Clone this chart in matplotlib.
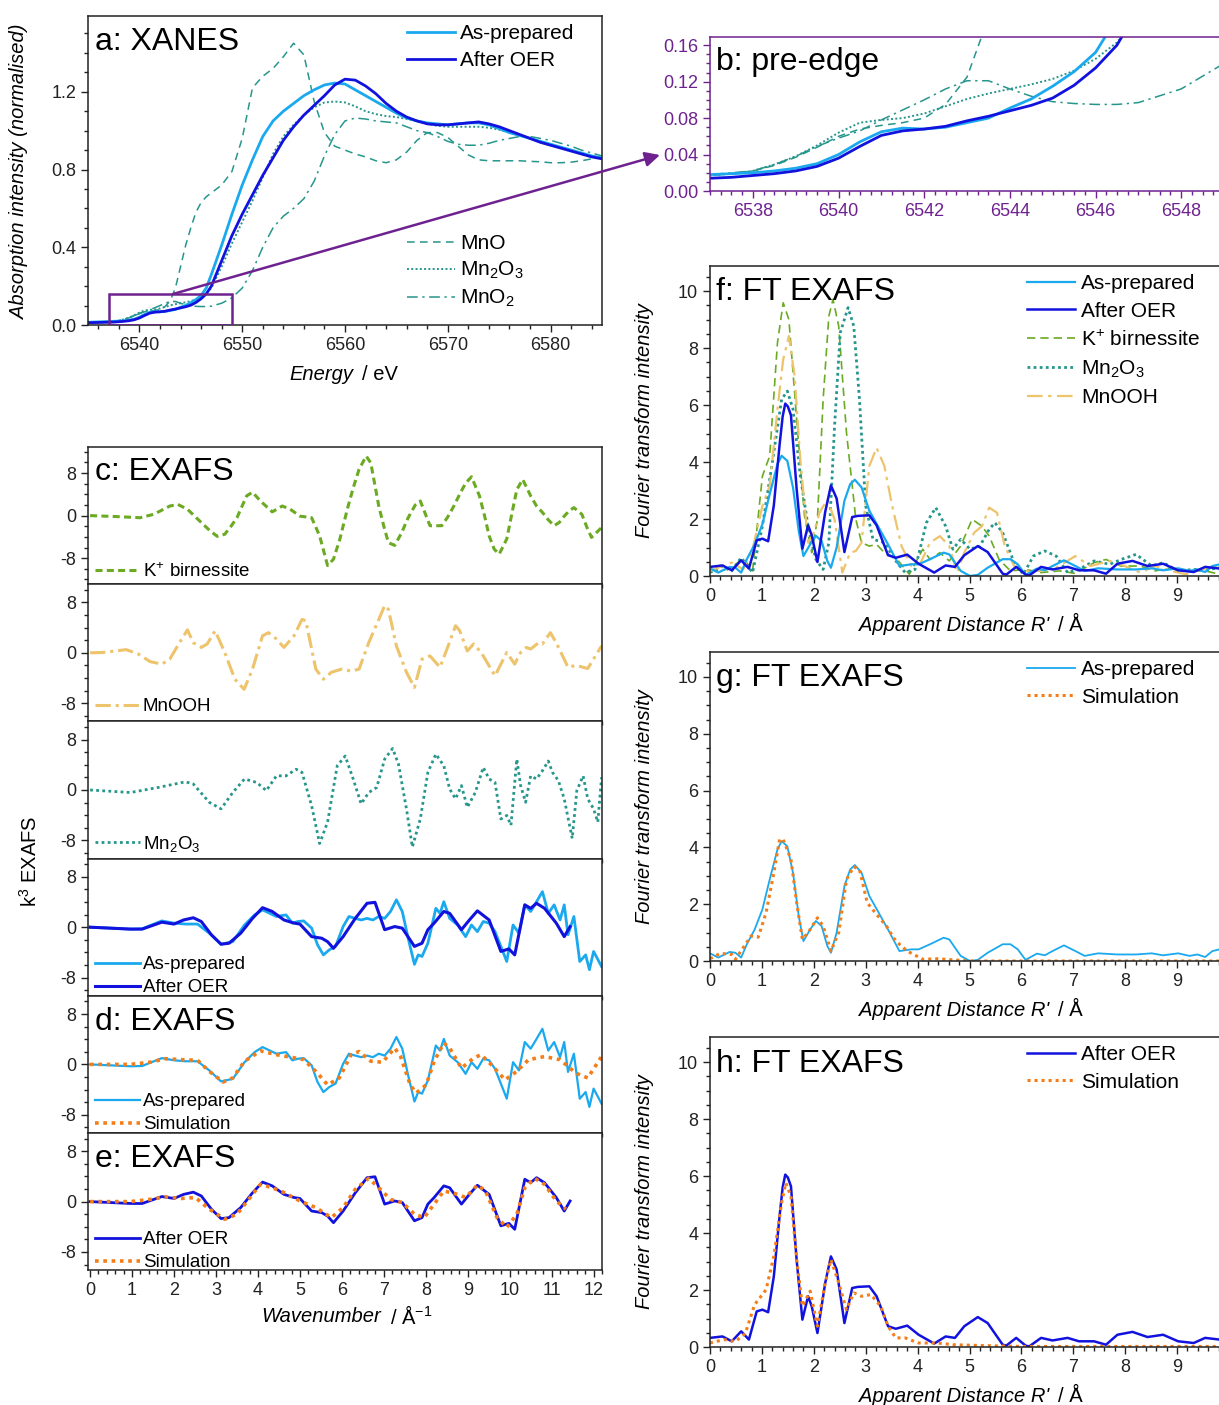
import matplotlib.pyplot as plt
from matplotlib.patches import Rectangle
from matplotlib.ticker import MultipleLocator, FormatStrFormatter

# ---------------- XANES (a, b) ----------------
energy = [6535, 6536, 6537, 6537.5, 6538, 6538.5, 6539, 6539.5, 6540, 6540.5,
          6541, 6541.5, 6542, 6542.5, 6543, 6543.5, 6544, 6544.5, 6545, 6545.5,
          6546, 6546.5, 6547, 6548, 6549, 6550, 6551, 6552, 6553, 6554,
          6555, 6556, 6557, 6558, 6559, 6560, 6561, 6562, 6563, 6564,
          6565, 6566, 6567, 6568, 6569, 6570, 6571, 6572, 6573, 6574,
          6575, 6576, 6577, 6578, 6579, 6580, 6581, 6582, 6583, 6584, 6585]
xanes_asprep = [0.014, 0.016, 0.018, 0.019, 0.020, 0.022, 0.025, 0.030, 0.040, 0.054,
                0.065, 0.069, 0.068, 0.070, 0.075, 0.080, 0.091, 0.101, 0.115, 0.131,
                0.152, 0.19, 0.26, 0.41, 0.57, 0.72, 0.85, 0.97, 1.05, 1.10,
                1.14, 1.18, 1.21, 1.235, 1.245, 1.24, 1.21, 1.18, 1.15, 1.12,
                1.09, 1.065, 1.05, 1.04, 1.035, 1.03, 1.035, 1.04, 1.04, 1.03,
                1.01, 0.99, 0.975, 0.96, 0.945, 0.93, 0.915, 0.90, 0.885, 0.87, 0.86]
xanes_oer = [0.012, 0.013, 0.014, 0.015, 0.017, 0.019, 0.022, 0.027, 0.036, 0.049,
             0.061, 0.066, 0.068, 0.071, 0.077, 0.082, 0.088, 0.094, 0.102, 0.116,
             0.135, 0.160, 0.20, 0.33, 0.46, 0.57, 0.67, 0.77, 0.86, 0.95,
             1.02, 1.08, 1.13, 1.18, 1.235, 1.265, 1.26, 1.23, 1.19, 1.14,
             1.10, 1.07, 1.05, 1.035, 1.03, 1.03, 1.035, 1.04, 1.045, 1.035,
             1.02, 1.0, 0.98, 0.96, 0.94, 0.925, 0.91, 0.895, 0.88, 0.865, 0.855]
xanes_mno = [0.013, 0.015, 0.017, 0.019, 0.022, 0.028, 0.037, 0.048, 0.060, 0.068,
             0.072, 0.075, 0.080, 0.095, 0.125, 0.19, 0.30, 0.41, 0.50, 0.58,
             0.63, 0.66, 0.68, 0.72, 0.79, 0.96, 1.22, 1.28, 1.32, 1.38,
             1.45, 1.39, 1.15, 0.99, 0.92, 0.90, 0.88, 0.865, 0.845, 0.835,
             0.85, 0.89, 0.95, 0.99, 0.99, 0.965, 0.92, 0.875, 0.85, 0.845,
             0.845, 0.845, 0.845, 0.842, 0.84, 0.835, 0.835, 0.838, 0.845, 0.855, 0.865]
xanes_mn2o3 = [0.013, 0.015, 0.017, 0.019, 0.022, 0.029, 0.038, 0.050, 0.064, 0.075,
               0.078, 0.080, 0.085, 0.093, 0.101, 0.107, 0.112, 0.117, 0.123, 0.132,
               0.145, 0.163, 0.19, 0.30, 0.42, 0.53, 0.64, 0.76, 0.88, 0.97,
               1.03, 1.08, 1.12, 1.145, 1.15, 1.145, 1.125, 1.10, 1.085, 1.075,
               1.07, 1.06, 1.05, 1.035, 1.025, 1.02, 1.02, 1.02, 1.02, 1.015,
               1.005, 0.99, 0.975, 0.96, 0.945, 0.93, 0.915, 0.90, 0.885, 0.87, 0.86]
xanes_mno2 = [0.014, 0.016, 0.018, 0.020, 0.022, 0.029, 0.038, 0.049, 0.058, 0.066,
              0.078, 0.089, 0.100, 0.112, 0.121, 0.121, 0.112, 0.104, 0.098, 0.096,
              0.095, 0.095, 0.097, 0.112, 0.14, 0.19, 0.28, 0.40, 0.50, 0.56,
              0.60, 0.65, 0.74, 0.87, 0.98, 1.05, 1.065, 1.06, 1.05, 1.045,
              1.04, 1.02, 1.0, 0.99, 0.97, 0.945, 0.93, 0.925, 0.925, 0.935,
              0.95, 0.96, 0.97, 0.97, 0.96, 0.95, 0.935, 0.92, 0.90, 0.885, 0.87]

# ---------------- k3 EXAFS (c, d, e) ----------------
k_birn = [0, 0.68, 1.19, 1.52, 1.9, 2.09, 2.32, 2.65, 2.85, 3.03, 3.21, 3.35, 3.5, 3.73, 3.87,
          4.06, 4.34, 4.58, 4.77, 5.0, 5.28, 5.47, 5.66, 5.8, 5.95, 6.13, 6.27, 6.41, 6.58,
          6.69, 6.88, 7.0, 7.11, 7.26, 7.42, 7.58, 7.75, 7.87, 8.1, 8.38, 8.52, 8.67, 8.82,
          8.95, 9.09, 9.28, 9.4, 9.51, 9.63, 9.75, 9.93, 10.05, 10.17, 10.31, 10.5, 10.64,
          10.78, 10.92, 11.06, 11.18, 11.3, 11.42, 11.53, 11.72, 11.84, 11.95, 12.19]
chi_birn = [0, -0.2, -0.4, 0.25, 1.8, 2.1, 1.2, -1.3, -2.8, -3.9, -3.5, -2.1, -0.4, 3.7, 4.4,
            2.75, 0.7, 1.8, 1.2, -0.1, -0.4, -3.8, -9.4, -8.2, -4.5, 1.2, 5.2, 8.7, 11.2,
            9.9, 1.8, -2.0, -5.1, -5.6, -3.3, -0.4, 2.0, 2.75, -1.9, -1.9, -0.3, 1.8, 4.2,
            6.1, 7.3, 3.7, 0.0, -3.8, -6.3, -7.25, -4.4, 0.3, 4.9, 6.8, 3.7, 1.8,
            0.6, -0.8, -1.9, -1.3, -0.1, 0.9, 1.5, 0.25, -2.2, -4.1, -2.25]

k_mnooh = [0, 0.3, 0.86, 1.15, 1.43, 1.71, 1.9, 2.13, 2.32, 2.46, 2.65, 2.79, 2.98, 3.21, 3.45,
           3.67, 3.87, 4.11, 4.25, 4.44, 4.62, 4.86, 5.05, 5.14, 5.28, 5.38, 5.56, 5.75, 5.99,
           6.22, 6.41, 6.64, 6.88, 7.02, 7.11, 7.3, 7.54, 7.73, 7.91, 8.1, 8.34, 8.52, 8.71,
           8.81, 8.99, 9.14, 9.32, 9.65, 9.93, 10.12, 10.26, 10.4, 10.5, 10.69, 10.78, 10.97,
           11.11, 11.39, 11.58, 11.86, 12.19]
chi_mnooh = [0, 0.05, 0.5, -0.2, -1.4, -1.8, -1.0, 1.6, 3.65, 1.6, 0.85, 1.4, 3.5, 0.05, -4.2,
             -5.8, -2.6, 2.7, 3.2, 2.2, 0.85, 2.7, 5.3, 5.1, 0.6, -2.6, -4.2, -3.1, -2.6,
             -2.9, -2.6, 1.6, 5.3, 7.5, 6.9, 1.1, -3.1, -5.5, -1.0, -0.5, -2.3, 0.85, 4.3,
             3.5, 0.3, 1.4, 0.05, -3.65, 0.05, -1.8, 0.05, 0.85, 0.6, 1.6, 1.4, 3.2,
             1.6, -2.3, -2.0, -2.5, 1.1]

k_mn2o3 = [0, 0.96, 1.62, 2.27, 2.46, 2.84, 3.12, 3.4, 3.68, 3.97, 4.2, 4.44, 4.67, 4.91, 5.05,
           5.28, 5.47, 5.66, 5.89, 6.08, 6.27, 6.46, 6.64, 6.83, 7.02, 7.21, 7.35, 7.54, 7.68,
           7.87, 8.05, 8.24, 8.43, 8.57, 8.71, 8.85, 8.99, 9.18, 9.37, 9.51, 9.65, 9.79, 9.93,
           10.03, 10.17, 10.26, 10.38, 10.5, 10.64, 10.78, 10.92, 11.02, 11.16, 11.3, 11.49,
           11.6, 11.75, 11.86, 12.0, 12.1, 12.19]
chi_mn2o3 = [0, -0.4, 0.4, 1.3, 0.95, -1.95, -3.0, -0.4, 1.75, 1.2, -0.1, 2.25, 2.25, 3.3, 2.8,
             -2.5, -8.5, -5.1, 3.85, 5.4, 1.75, -2.2, -0.4, 0.4, 4.9, 6.6, 4.1, -3.0, -9.05,
             -4.6, 2.8, 5.7, 3.85, 0.15, -1.4, 0.7, -2.75, -0.4, 3.6, 1.75, 1.2, -4.6, -4.05,
             -5.6, 4.9, 0.7, -1.95, 2.25, 1.75, 3.05, 4.6, 2.8, 1.5, -1.4, -7.7,
             -0.1, 2.25, -1.4, -3.0, -5.1, 2.0]

k_oer = [0, 0.96, 1.24, 1.71, 2.0, 2.23, 2.46, 2.65, 2.89, 3.12, 3.31, 3.59, 3.87, 4.11, 4.34,
         4.62, 4.86, 5.0, 5.28, 5.52, 5.66, 5.8, 6.03, 6.32, 6.6, 6.79, 7.02, 7.26, 7.44, 7.73,
         7.91, 8.05, 8.2, 8.43, 8.57, 8.85, 9.04, 9.23, 9.51, 9.79, 9.98, 10.12, 10.36, 10.5,
         10.64, 10.83, 11.11, 11.3, 11.44]
chi_oer = [0, -0.3, -0.3, 0.8, 0.5, 1.15, 1.5, 0.9, -1.2, -2.7, -2.55, -0.95, 1.4, 3.1, 2.5,
           1.15, 0.65, 0.5, -1.5, -1.75, -2.3, -3.35, -1.5, 1.4, 3.8, 3.95, -0.4, 0.1, -0.15, -3.05,
           -2.55, -0.4, 0.65, 2.5, 2.2, -0.4, 1.15, 2.6, 1.15, -3.85, -3.45, -4.4, 3.55, 3.0,
           3.8, 3.0, 0.65, -1.5, 0.1]

k_asp = [0, 0.96, 1.24, 1.71, 2.0, 2.27, 2.56, 2.84, 3.12, 3.4, 3.68, 3.92, 4.11, 4.44, 4.67,
         4.82, 4.95, 5.09, 5.28, 5.42, 5.56, 5.7, 5.85, 6.03, 6.17, 6.32, 6.46, 6.6, 6.74, 6.88,
         7.02, 7.16, 7.3, 7.44, 7.58, 7.73, 7.82, 7.91, 8.05, 8.15, 8.24, 8.34, 8.43, 8.57, 8.76,
         8.95, 9.09, 9.23, 9.37, 9.51, 9.65, 9.79, 9.93, 10.08, 10.22, 10.36, 10.5, 10.64, 10.78,
         10.92, 11.06, 11.2, 11.3, 11.39, 11.53, 11.67, 11.81, 11.9, 12.0, 12.19]
chi_asp = [0, -0.3, -0.25, 1.0, 0.65, 0.5, 0.5, -0.95, -2.7, -2.3, 0.35, 1.95, 2.75, 1.7, 1.95,
           0.65, 0.9, 1.0, -0.15, -2.8, -4.4, -3.6, -3.05, 0.1, 1.7, 1.4, 1.15, 1.4, 1.15, 1.7,
           1.4, 2.5, 4.35, 2.5, -1.75, -5.9, -4.4, -4.65, -2.55, 0.35, 3.0, 2.2, 4.05, 1.4, 0.35,
           -1.5, 0.35, -0.7, 0.9, 0.65, -0.7, -3.05, -5.45, 0.35, -0.95, 3.55, 2.5, 4.05, 5.65,
           2.2, 3.55, 1.15, 3.55, -1.2, 1.7, -5.45, -4.4, -6.75, -3.85, -6.25]

k_sim_asp = [0, 0.96, 1.43, 1.8, 2.18, 2.56, 2.84, 3.17, 3.4, 3.68, 4.06, 4.44, 4.82, 5.09, 5.38,
             5.66, 5.94, 6.22, 6.41, 6.69, 6.97, 7.26, 7.4, 7.63, 7.77, 8.01, 8.2, 8.43, 8.57,
             8.85, 9.14, 9.32, 9.56, 9.89, 10.17, 10.45, 10.83, 11.2, 11.58, 11.86, 12.19]
chi_sim_asp = [0, 0, 0.35, 0.9, 0.75, 0.65, -1.1, -2.8, -2.15, 0.5, 2.15, 1.55, 1.1, 0.75, -1.1,
               -3.25, -2.15, 1.55, 2.05, 0.5, 0.35, 2.6, 1.25, -3.25, -4.55, -3.25, 0.5, 3.4, 2.6,
               -0.6, 1.0, 1.55, -0.05, -2.45, -1.1, 0.75, 1.25, 0.75, -1.4, -2.15, 1.25]

k_sim_oer = [0, 0.96, 1.43, 1.8, 2.18, 2.51, 2.84, 3.21, 3.5, 3.78, 4.06, 4.34, 4.62, 5.0, 5.38,
             5.75, 6.03, 6.32, 6.64, 6.88, 7.16, 7.44, 7.73, 7.96, 8.2, 8.43, 8.76, 8.95, 9.23,
             9.42, 9.7, 9.93, 10.17, 10.36, 10.59, 10.83, 11.11, 11.34]
chi_sim_oer = [0, 0, 0.35, 0.75, 0.5, 0.65, -1.2, -2.8, -2.0, 0.35, 2.75, 2.2, 1.45, 0.1, -0.95,
               -2.55, -0.95, 1.95, 3.7, 2.2, 0.35, -0.15, -2.0, -2.55, -0.4, 1.7, 1.15, 0.65, 2.65,
               1.7, -2.55, -4.1, -2.0, 2.2, 3.7, 2.75, 0.1, -1.2]

# ---------------- FT EXAFS (f, g, h) ----------------
r_asp = [0, 0.16, 0.38, 0.49, 0.6, 0.71, 0.86, 1.01, 1.15, 1.3, 1.38, 1.49, 1.6, 1.71, 1.8,
         1.93, 2.04, 2.15, 2.26, 2.33, 2.44, 2.59, 2.7, 2.79, 2.92, 3.07, 3.25, 3.43, 3.65, 3.88,
         4.02, 4.24, 4.5, 4.61, 4.83, 5.01, 5.16, 5.35, 5.64, 5.79, 5.93, 6.08, 6.3, 6.45, 6.6,
         6.82, 7.04, 7.22, 7.48, 7.85, 8.21, 8.51, 8.73, 9.02, 9.24, 9.39, 9.54, 9.68, 9.82, 10.0]
ft_asp = [0.27, 0.12, 0.32, 0.29, 0.12, 0.59, 1.11, 1.82, 2.87, 3.93, 4.22, 4.04, 3.1, 1.58, 0.7,
          1.11, 1.41, 1.23, 0.53, 0.29, 1.0, 2.64, 3.22, 3.38, 3.11, 2.29, 1.7, 1.11, 0.35, 0.41,
          0.41, 0.59, 0.82, 0.76, 0.18, 0.0, 0.04, 0.29, 0.59, 0.59, 0.41, 0.04, 0.26, 0.2, 0.35,
          0.55, 0.35, 0.18, 0.27, 0.23, 0.23, 0.27, 0.2, 0.27, 0.18, 0.23, 0.14, 0.35, 0.41, 0.42]

r_sim_asp = [0, 0.2, 0.42, 0.49, 0.64, 0.79, 0.93, 1.08, 1.23, 1.34, 1.41, 1.56, 1.67, 1.78,
             1.93, 2.07, 2.18, 2.33, 2.48, 2.63, 2.77, 2.88, 3.03, 3.21, 3.4, 3.58, 3.8, 4.1,
             4.39, 4.68, 5.05, 6.0, 7.0, 8.0, 9.0, 10.0]
ft_sim_asp = [0.08, 0.27, 0.23, 0.06, 0.47, 0.88, 0.84, 1.7, 3.1, 4.28, 4.28, 3.58, 2.05, 0.76,
              1.11, 1.52, 1.23, 0.35, 1.0, 2.87, 3.32, 3.22, 2.05, 1.64, 1.23, 0.7, 0.35, 0.06,
              0.08, 0.04, 0.0, 0.0, 0.0, 0.0, 0.0, 0.0]

r_oer = [0, 0.24, 0.42, 0.6, 0.75, 0.9, 1.01, 1.12, 1.23, 1.34, 1.4, 1.45, 1.5, 1.56, 1.67, 1.78,
         1.89, 1.96, 2.07, 2.22, 2.33, 2.44, 2.59, 2.74, 2.85, 3.07, 3.21, 3.43, 3.58, 3.8, 4.02,
         4.32, 4.54, 4.72, 4.9, 5.16, 5.35, 5.64, 5.71, 5.9, 6.08, 6.15, 6.38, 6.6, 6.89, 7.11,
         7.4, 7.63, 7.85, 8.14, 8.43, 8.73, 9.02, 9.32, 9.54, 9.82, 10.0]
ft_oer = [0.32, 0.37, 0.2, 0.55, 0.26, 1.25, 1.31, 1.22, 2.48, 4.59, 5.6, 6.05, 5.95, 5.64, 3.04,
          0.96, 1.78, 1.43, 0.49, 2.25, 3.18, 2.72, 0.84, 2.07, 2.11, 2.13, 1.78, 0.73, 0.64, 0.75,
          0.43, 0.12, 0.37, 0.32, 0.73, 1.05, 0.84, 0.08, 0.05, 0.32, 0.05, 0.02, 0.32, 0.23, 0.32,
          0.2, 0.2, 0.08, 0.43, 0.53, 0.35, 0.43, 0.2, 0.14, 0.32, 0.26, 0.22]

r_sim_oer = [0, 0.27, 0.49, 0.68, 0.86, 1.08, 1.23, 1.38, 1.46, 1.56, 1.67, 1.78, 1.93, 2.07,
             2.22, 2.33, 2.48, 2.63, 2.77, 2.92, 3.1, 3.29, 3.43, 3.58, 3.76, 4.02, 4.39, 4.68,
             5.27, 6.0, 7.0, 8.0, 9.0, 10.0]
ft_sim_oer = [0.14, 0.26, 0.2, 0.47, 1.49, 2.01, 3.19, 5.06, 5.76, 5.29, 3.07, 1.43, 1.96, 0.73,
              2.25, 3.07, 2.25, 1.31, 1.9, 1.78, 1.84, 1.43, 0.73, 0.32, 0.32, 0.14, 0.14, 0.08,
              0.05, 0.02, 0.02, 0.02, 0.02, 0.02]

r_birn = [0, 0.2, 0.42, 0.64, 0.82, 1.01, 1.15, 1.3, 1.41, 1.52, 1.67, 1.82, 1.96, 2.07, 2.18,
          2.29, 2.37, 2.48, 2.63, 2.81, 2.92, 3.07, 3.21, 3.36, 3.58, 3.84, 4.1, 4.24, 4.43, 4.61,
          4.83, 5.05, 5.24, 5.38, 5.57, 5.79, 6.08, 6.38, 6.74, 7.04, 7.4, 7.63, 7.92, 8.29, 8.58,
          8.88, 9.24, 9.54, 9.82, 10.0]
ft_birn = [0.23, 0.18, 0.29, 0.64, 0.18, 3.51, 4.21, 8.19, 9.59, 9.0, 5.5, 2.11, 0.82, 1.99, 6.2,
           9.12, 9.71, 8.77, 5.03, 1.99, 1.17, 1.05, 1.11, 0.82, 0.64, 0.06, 0.94, 0.58, 0.82, 0.53,
           1.05, 1.99, 1.75, 1.4, 0.58, 0.18, 0.23, 0.12, 0.18, 0.09, 0.47, 0.58, 0.35, 0.35, 0.18,
           0.29, 0.18, 0.18, 0.06, 0.05]

r_mn2o3 = [0, 0.2, 0.42, 0.6, 0.82, 1.01, 1.19, 1.38, 1.49, 1.6, 1.74, 1.89, 2.04, 2.18, 2.29,
           2.4, 2.51, 2.66, 2.77, 2.88, 3.0, 3.14, 3.36, 3.58, 3.76, 3.95, 4.17, 4.35, 4.54, 4.68,
           4.83, 5.01, 5.2, 5.38, 5.49, 5.64, 5.86, 6.04, 6.23, 6.45, 6.67, 6.89, 7.11, 7.4, 7.7,
           7.92, 8.21, 8.51, 8.73, 9.02, 9.32, 9.61, 9.82, 10.0]
ft_mn2o3 = [0.12, 0.35, 0.18, 0.64, 0.12, 1.75, 3.86, 6.2, 6.49, 5.85, 3.51, 1.75, 0.58, 0.23, 1.17,
            5.26, 8.54, 9.42, 8.77, 6.2, 2.46, 1.29, 1.17, 0.53, 0.12, 0.23, 1.87, 2.4, 1.75, 0.94,
            1.29, 0.94, 1.05, 1.64, 1.87, 1.52, 0.47, 0.06, 0.7, 0.88, 0.7, 0.12, 0.23, 0.53, 0.41,
            0.58, 0.76, 0.35, 0.47, 0.18, 0.23, 0.23, 0.29, 0.3]

r_mnooh = [0, 0.24, 0.42, 0.64, 0.82, 1.01, 1.15, 1.3, 1.41, 1.52, 1.63, 1.74, 1.89, 2.0, 2.11,
           2.26, 2.4, 2.55, 2.7, 2.81, 2.92, 3.07, 3.21, 3.36, 3.51, 3.69, 3.88, 4.06, 4.24, 4.43,
           4.61, 4.76, 4.9, 5.09, 5.24, 5.38, 5.53, 5.68, 5.86, 6.08, 6.38, 6.67, 7.04, 7.33, 7.7,
           7.99, 8.29, 8.58, 8.88, 9.17, 9.46, 9.82, 10.0]
ft_mnooh = [0.18, 0.35, 0.47, 0.23, 0.94, 2.46, 3.16, 5.85, 7.6, 8.42, 7.02, 4.09, 1.17, 1.52, 2.22,
            2.69, 1.99, 0.12, 0.82, 0.88, 1.17, 3.86, 4.5, 3.86, 2.46, 1.05, 0.35, 0.47, 1.17, 1.4,
            1.05, 0.12, 0.82, 1.52, 1.75, 2.4, 2.22, 1.05, 0.35, 0.18, 0.18, 0.29, 0.7, 0.35, 0.53,
            0.35, 0.12, 0.35, 0.18, 0.06, 0.23, 0.35, 0.36]

LIGHT = '#1AA9EE'
BLUE = '#1212DE'
TEAL = '#26968C'
GREEN = '#6BAA22'
TAN = '#EDC36C'
ORANGE = '#F47D18'
PURPLE = '#6E2290'
DARK = '#222222'

plt.rcParams['font.family'] = ['Liberation Sans', 'DejaVu Sans']
plt.rcParams['mathtext.fontset'] = 'custom'
plt.rcParams['mathtext.rm'] = 'Liberation Sans'
plt.rcParams['mathtext.it'] = 'Liberation Sans:italic'
plt.rcParams['axes.unicode_minus'] = False

W, H = 1219, 1405
fig = plt.figure(figsize=(W / 100, H / 100), dpi=100)


def px_box(x0, y0, x1, y1):
    return [x0 / W, 1 - y1 / H, (x1 - x0) / W, (y1 - y0) / H]


def px(x, y):
    return (x / W, 1 - y / H)


def style(ax, xmaj, xmin, ymaj, ymin, col=DARK):
    ax.xaxis.set_major_locator(MultipleLocator(xmaj))
    ax.xaxis.set_minor_locator(MultipleLocator(xmin))
    ax.yaxis.set_major_locator(MultipleLocator(ymaj))
    ax.yaxis.set_minor_locator(MultipleLocator(ymin))
    ax.tick_params(which='both', direction='out', colors=col, labelsize=13, width=1,
                   top=False, right=False)
    ax.tick_params(which='major', length=5)
    ax.tick_params(which='minor', length=3)
    for s in ax.spines.values():
        s.set_color(col)
        s.set_linewidth(1.1)


def legend(ax, handles, x, y, size, hl, pad, sp):
    return ax.legend(handles=handles, loc='upper left', bbox_to_anchor=px(x, y),
                     bbox_transform=fig.transFigure, frameon=False, borderpad=0,
                     borderaxespad=0, fontsize=size, handlelength=hl,
                     handletextpad=pad, labelspacing=sp)


def tag(x, y, s):
    fig.text(x / W, 1 - y / H, s, fontsize=23, ha='left', va='baseline')


def split_label(x_end, y, italic, plain):
    fig.text(x_end / W, 1 - y / H, italic, fontsize=14.5, style='italic', ha='right', va='center')
    fig.text((x_end + 9) / W, 1 - y / H, plain, fontsize=14.5, ha='left', va='center')


def xanes_lines(ax, thick):
    a = ax.plot(energy, xanes_mno, color=TEAL, lw=1.1, ls=(0, (5, 3.5)), label='MnO')[0]
    b = ax.plot(energy, xanes_mn2o3, color=TEAL, lw=1.4, ls=(0, (1, 1.2)), label='Mn$_2$O$_3$')[0]
    c = ax.plot(energy, xanes_mno2, color=TEAL, lw=1.1, ls=(0, (7, 3, 1.5, 3)), label='MnO$_2$')[0]
    d = ax.plot(energy, xanes_asprep, color=LIGHT, lw=thick, label='As-prepared')[0]
    e = ax.plot(energy, xanes_oer, color=BLUE, lw=thick, label='After OER')[0]
    return a, b, c, d, e


# ---- a: XANES ----
ax_a = fig.add_axes(px_box(88, 16, 602, 325))
l_mno, l_m3, l_m2, l_ap, l_ao = xanes_lines(ax_a, 2.0)
ax_a.set_xlim(6535, 6585)
ax_a.set_ylim(0, 1.59)
style(ax_a, 10, 2, 0.4, 0.1)
ax_a.yaxis.set_major_formatter(FormatStrFormatter('%.1f'))
leg1 = legend(ax_a, [l_ap, l_ao], 407, 24, 15, 2.3, 0.25, 0.4)
ax_a.add_artist(leg1)
legend(ax_a, [l_mno, l_m3, l_m2], 407, 234, 15, 2.3, 0.25, 0.33)
ax_a.add_patch(Rectangle((6537, 0), 12, 0.16, fill=False, ec=PURPLE, lw=1.8, zorder=5))
ax_a.annotate('', xy=px(660, 155), xycoords=fig.transFigure, xytext=(6543.3, 0.16),
              textcoords='data', annotation_clip=False,
              arrowprops=dict(arrowstyle='-|>', color=PURPLE, lw=1.8, mutation_scale=22,
                              shrinkA=0, shrinkB=0))
tag(95, 50, 'a: XANES')
fig.text(20 / W, 1 - 172 / H, 'Absorption intensity (normalised)', rotation=90,
         style='italic', fontsize=14.5, ha='center', va='center')
split_label(353, 375, 'Energy', '/ eV')

# ---- b: pre-edge ----
ax_b = fig.add_axes(px_box(710, 37, 1224, 191))
xanes_lines(ax_b, 2.0)
ax_b.set_xlim(6537, 6549)
ax_b.set_ylim(0, 0.169)
style(ax_b, 2, 0.25, 0.04, 0.01, col=PURPLE)
ax_b.set_xticks([6538, 6540, 6542, 6544, 6546, 6548])
ax_b.yaxis.set_major_formatter(FormatStrFormatter('%.2f'))
ax_b.spines['right'].set_visible(False)
tag(716, 70, 'b: pre-edge')

# ---- c, d, e: k3 EXAFS stack ----
tops = [447 + i * 137.2 for i in range(7)]
stack = []
for i in range(6):
    ax = fig.add_axes(px_box(88, tops[i], 602, tops[i + 1]))
    ax.set_xlim(-0.05, 12.2)
    lim = 12.9 if i == 0 else 10.9
    ax.set_ylim(-lim, lim)
    style(ax, 1, 0.2, 8, 2)
    ax.set_yticks([-8, 0, 8])
    if i < 5:
        ax.tick_params(labelbottom=False)
    stack.append(ax)

c1, c2, c3, c4, cd, ce = stack
h = c1.plot(k_birn, chi_birn, color=GREEN, lw=2.2, ls=(0, (2.3, 1.4)), label='K$^{+}$ birnessite')[0]
legend(c1, [h], 95, 562, 13.5, 2.4, 0.16, 0.3)
h = c2.plot(k_mnooh, chi_mnooh, color=TAN, lw=2.2, ls=(0, (5, 1.6, 1, 1.6)), label='MnOOH')[0]
legend(c2, [h], 95, 698, 13.5, 2.4, 0.16, 0.3)
h = c3.plot(k_mn2o3, chi_mn2o3, color=TEAL, lw=2.0, ls=(0, (1, 1.2)), label='Mn$_2$O$_3$')[0]
legend(c3, [h], 95, 834, 13.5, 2.4, 0.16, 0.3)
ha = c4.plot(k_asp, chi_asp, color=LIGHT, lw=2.0, label='As-prepared')[0]
hb = c4.plot(k_oer, chi_oer, color=BLUE, lw=2.2, label='After OER')[0]
legend(c4, [ha, hb], 95, 956, 13.5, 2.4, 0.16, 0.32)
ha = cd.plot(k_asp, chi_asp, color=LIGHT, lw=1.6, label='As-prepared')[0]
hb = cd.plot(k_sim_asp, chi_sim_asp, color=ORANGE, lw=2.6, ls=(0, (1, 1.3)), label='Simulation')[0]
legend(cd, [ha, hb], 95, 1093, 13.5, 2.4, 0.16, 0.32)
ha = ce.plot(k_oer, chi_oer, color=BLUE, lw=2.0, label='After OER')[0]
hb = ce.plot(k_sim_oer, chi_sim_oer, color=ORANGE, lw=2.6, ls=(0, (1, 1.3)), label='Simulation')[0]
legend(ce, [ha, hb], 95, 1231, 13.5, 2.4, 0.16, 0.32)

tag(95, 480, 'c: EXAFS')
tag(95, 1030, 'd: EXAFS')
tag(95, 1167, 'e: EXAFS')
fig.text(30 / W, 1 - 861 / H, 'k$^{3}$ EXAFS', rotation=90, fontsize=14.5, ha='center', va='center')
split_label(381, 1316, 'Wavenumber', '/ Å$^{-1}$')

# ---- f, g, h: FT EXAFS ----
ft_axes = []
for top, bot in [(266, 576), (652, 961), (1037, 1347)]:
    ax = fig.add_axes(px_box(710, top, 1229, bot))
    ax.set_xlim(0, 10)
    ax.set_ylim(0, 10.88)
    style(ax, 1, 0.2, 2, 0.5)
    ax.set_xticks(range(0, 10))
    ax.spines['right'].set_visible(False)
    fig.text(645 / W, 1 - (top + bot) / 2 / H, 'Fourier transform intensity', rotation=90,
             style='italic', fontsize=14.5, ha='center', va='center')
    split_label(1049, bot + 50, "Apparent Distance R'", '/ Å')
    ft_axes.append(ax)
af, ag, ah = ft_axes

hk = af.plot(r_birn, ft_birn, color=GREEN, lw=1.2, ls=(0, (5, 3)), label='K$^{+}$ birnessite')[0]
hm = af.plot(r_mn2o3, ft_mn2o3, color=TEAL, lw=2.0, ls=(0, (1, 1.2)), label='Mn$_2$O$_3$')[0]
hh = af.plot(r_mnooh, ft_mnooh, color=TAN, lw=1.6, ls=(0, (7, 2.5, 1.5, 2.5)), label='MnOOH')[0]
ha = af.plot(r_asp, ft_asp, color=LIGHT, lw=1.6, label='As-prepared')[0]
hb = af.plot(r_oer, ft_oer, color=BLUE, lw=1.8, label='After OER')[0]
legend(af, [ha, hb, hk, hm, hh], 1027, 274, 15, 2.3, 0.29, 0.42)
tag(716, 300, 'f: FT EXAFS')

ha = ag.plot(r_asp, ft_asp, color=LIGHT, lw=1.3, label='As-prepared')[0]
hb = ag.plot(r_sim_asp, ft_sim_asp, color=ORANGE, lw=2.2, ls=(0, (1, 1.3)), label='Simulation')[0]
legend(ag, [ha, hb], 1027, 660, 15, 2.3, 0.29, 0.42)
tag(716, 686, 'g: FT EXAFS')

ha = ah.plot(r_oer, ft_oer, color=BLUE, lw=1.8, label='After OER')[0]
hb = ah.plot(r_sim_oer, ft_sim_oer, color=ORANGE, lw=2.2, ls=(0, (1, 1.3)), label='Simulation')[0]
legend(ah, [ha, hb], 1027, 1045, 15, 2.3, 0.29, 0.42)
tag(716, 1072, 'h: FT EXAFS')

fig.savefig('out.png', dpi=100, facecolor='white')
